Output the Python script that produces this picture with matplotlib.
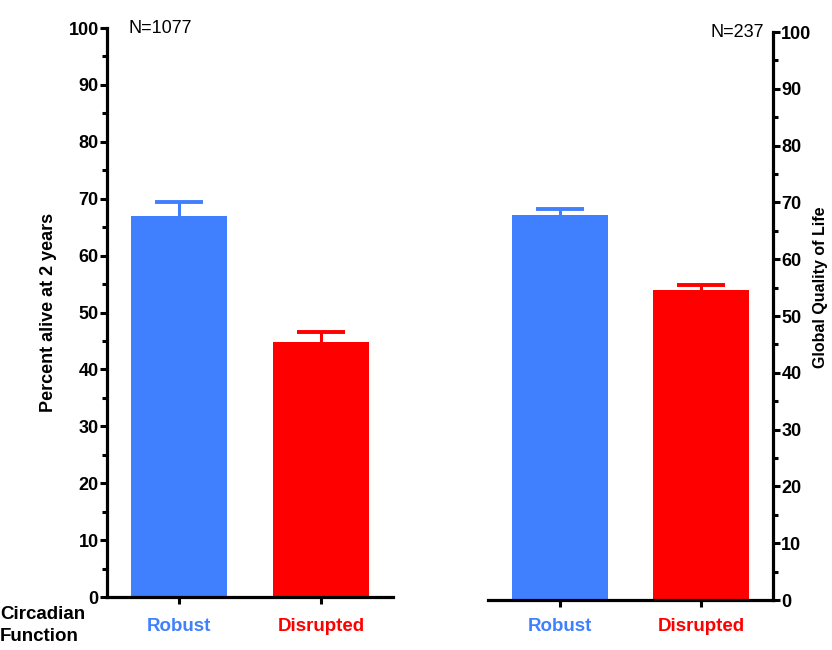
import matplotlib
matplotlib.use('Agg')
import matplotlib.pyplot as plt
from matplotlib.ticker import MultipleLocator

# values
groups = ['Robust', 'Disrupted']
group_colors = ['#4080FF', '#FF0000']
survival = [67.0, 44.8]
survival_err = [2.4, 1.8]
qol = [67.7, 54.6]
qol_err = [1.2, 0.8]
n_survival = 'N=1077'
n_qol = 'N=237'

plt.rcParams['font.family'] = ['Liberation Sans', 'DejaVu Sans']

fig = plt.figure(figsize=(8.32, 6.5), dpi=100)
ax1 = fig.add_axes([0.1286, 0.0815, 0.3438, 0.8754])
ax2 = fig.add_axes([0.5865, 0.0769, 0.3425, 0.8738])


def draw_panel(ax, values, errs, side, xpad):
    x = list(range(len(values)))
    ax.bar(x, values, width=0.68, color=group_colors, zorder=2)
    # upper error only: stem plus a cap
    for i in x:
        top = values[i] + errs[i]
        ax.vlines(i, values[i], top, color=group_colors[i], lw=2.2, zorder=1)
        ax.plot([i], [top], marker='_', markersize=35, mew=2.8,
                color=group_colors[i], zorder=1)
    ax.set_xlim(-0.51, 1.51)
    ax.set_ylim(0, 100)
    ax.yaxis.set_major_locator(MultipleLocator(10))
    ax.yaxis.set_minor_locator(MultipleLocator(5))
    ax.set_xticks(x)
    ax.set_xticklabels(groups, fontsize=13.5, fontweight='bold')
    for lbl, c in zip(ax.get_xticklabels(), group_colors):
        lbl.set_color(c)
    for s in ['top', 'left', 'right']:
        ax.spines[s].set_visible(False)
    ax.spines[side].set_visible(True)
    ax.spines['bottom'].set_linewidth(2.3)
    ax.spines[side].set_linewidth(2.3)
    ax.tick_params(axis='x', length=5, width=2.2, pad=xpad)
    ax.tick_params(axis='y', which='major', length=5, width=2.2, pad=1,
                   labelsize=13)
    ax.tick_params(axis='y', which='minor', length=3.5, width=2.2)
    if side == 'right':
        ax.yaxis.tick_right()
        ax.yaxis.set_label_position('right')
    for lbl in ax.get_yticklabels():
        lbl.set_fontweight('bold')


draw_panel(ax1, survival, survival_err, 'left', 10)
draw_panel(ax2, qol, qol_err, 'right', 8)

ax1.set_ylabel('Percent alive at 2 years', fontsize=13, fontweight='bold')
ax1.yaxis.set_label_coords(-0.175, 0.5)
ax2.set_ylabel('Global Quality of Life', fontsize=11.5, fontweight='bold')
ax2.yaxis.set_label_coords(1.14, 0.55)

ax1.text(0.075, 1.0, n_survival, transform=ax1.transAxes, fontsize=13,
         ha='left', va='center')
ax2.text(0.968, 1.0, n_qol, transform=ax2.transAxes, fontsize=13,
         ha='right', va='center')

fig.text(0.0, 0.038, 'Circadian\nFunction', fontsize=13.5, fontweight='bold',
         ha='left', va='center', linespacing=1.35)

fig.savefig('out.png', dpi=100)
